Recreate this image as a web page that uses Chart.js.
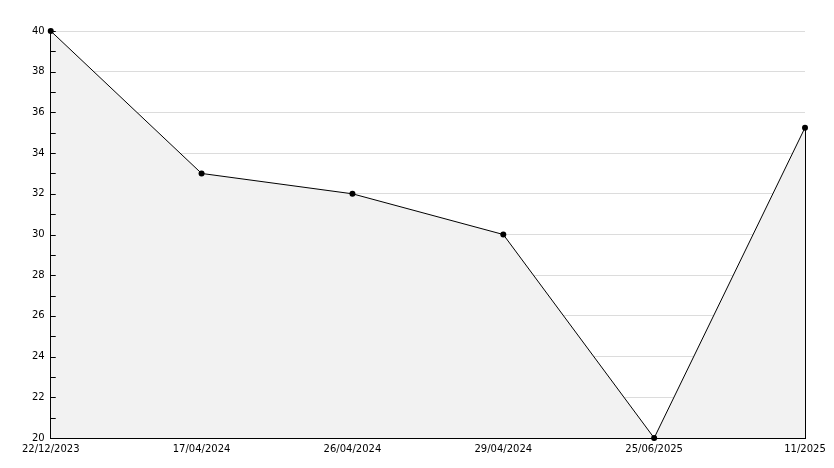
<!DOCTYPE html>
<html>
<head>
<meta charset="utf-8">
<script src="https://cdn.jsdelivr.net/npm/chart.js@4"></script>
<style>
  html, body { margin: 0; padding: 0; background: #fff; }
  #wrap { width: 834px; height: 468px; }
</style>
</head>
<body>
<div id="wrap"><canvas id="myChart"></canvas></div>
<script>
const dates = ["22/12/2023", "17/04/2024", "26/04/2024", "29/04/2024", "25/06/2025", "11/2025"];
const values = [40, 33, 32, 30, 20, 35.25];
const yMin = 20;
const yMax = 40;

// short tick marks drawn inward from the left axis, plus the closing edge on the right
const innerTicks = {
  id: "innerTicks",
  afterDatasetsDraw(chart) {
    const y = chart.scales.y;
    const x = chart.scales.x;
    const c = chart.ctx;
    c.save();
    c.strokeStyle = "#000";
    c.lineWidth = 1;
    y.ticks.forEach(t => {
      const py = Math.round(y.getPixelForValue(t.value)) + 0.5;
      c.beginPath();
      c.moveTo(y.right, py);
      c.lineTo(y.right + 5, py);
      c.stroke();
    });
    const last = values.length - 1;
    const px = Math.round(x.getPixelForValue(last)) + 0.5;
    c.beginPath();
    c.moveTo(px, y.getPixelForValue(values[last]));
    c.lineTo(px, y.getPixelForValue(yMin));
    c.stroke();
    c.restore();
  }
};

const ctx = document.getElementById("myChart");

new Chart(ctx, {
  type: "line",
  data: {
    labels: dates,
    datasets: [{
      data: values,
      borderColor: "#000",
      borderWidth: 1,
      backgroundColor: "#f2f2f2",
      fill: "start",
      clip: false,
      tension: 0,
      pointRadius: 3,
      pointBackgroundColor: "#000",
      pointBorderColor: "#000",
      pointBorderWidth: 0
    }]
  },
  options: {
    responsive: true,
    maintainAspectRatio: false,
    animation: false,
    layout: { padding: { top: 31, right: 29, left: 26, bottom: 8 } },
    plugins: {
      legend: { display: false },
      tooltip: { enabled: false }
    },
    scales: {
      x: {
        offset: false,
        grid: { display: false, drawTicks: false },
        border: { color: "#000", width: 1 },
        ticks: {
          color: "#000",
          autoSkip: false,
          maxRotation: 0,
          padding: 5,
          font: { family: "DejaVu Sans", size: 10 }
        }
      },
      y: {
        min: yMin,
        max: yMax,
        grid: {
          drawTicks: false,
          color: (c) => (c.tick && c.tick.value % 2 === 0 && c.tick.value !== yMin) ? "#dcdcdc" : "rgba(0,0,0,0)"
        },
        border: { color: "#000", width: 1 },
        ticks: {
          stepSize: 1,
          color: "#000",
          padding: 6,
          font: { family: "DejaVu Sans", size: 10 },
          callback: (v) => (v % 2 === 0 ? v : "")
        }
      }
    }
  },
  plugins: [innerTicks]
});
</script>
</body>
</html>
